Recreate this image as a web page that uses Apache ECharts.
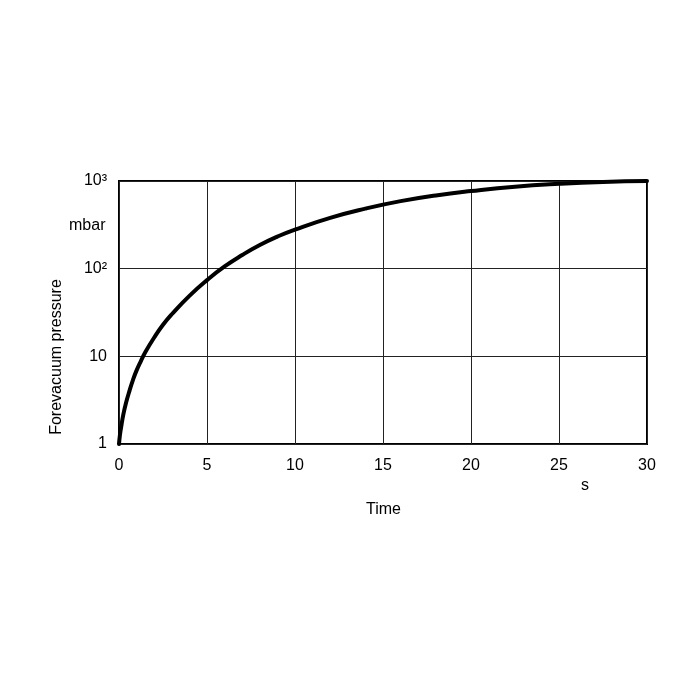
<!DOCTYPE html>
<html>
<head>
<meta charset="utf-8">
<script src="https://cdn.jsdelivr.net/npm/echarts@6/dist/echarts.min.js"></script>
<style>
html,body{margin:0;padding:0;background:#fff;}
#chart{width:700px;height:700px;}
</style>
</head>
<body>
<div id="chart"></div>
<script>
// Data
var timeValues = [0, 0.05, 0.12, 0.25, 0.4, 0.6, 0.8, 1, 1.25, 1.5, 2, 2.5, 3, 4, 5, 6, 7, 8, 9, 10, 12, 14, 16, 18, 20, 22.5, 25, 27.5, 30];
var pressureValues = [1, 1.25, 1.55, 2.19, 2.95, 4.07, 5.43, 6.92, 8.9, 11.2, 16.4, 22.9, 30.2, 49, 74, 106, 143, 186, 232, 279, 380, 484, 589, 684, 767, 861, 929, 977, 1000];
var xTicks = [0, 5, 10, 15, 20, 25, 30];
var yTickLabels = {1: '1', 10: '10', 100: '10²', 1000: '10³'};

var seriesData = timeValues.map(function (t, i) { return [t, pressureValues[i]]; });

var chart = echarts.init(document.getElementById('chart'), null, {renderer: 'canvas'});
var font = '"Liberation Sans", Arial, Helvetica, sans-serif';
chart.setOption({
  backgroundColor: '#fff',
  animation: false,
  grid: {left: 119, right: 53, top: 181, bottom: 256, containLabel: false,
         show: true, borderColor: '#000', borderWidth: 2, backgroundColor: 'transparent'},
  xAxis: {
    type: 'value', min: 0, max: 30, interval: 5,
    axisLine: {show: false},
    axisTick: {show: false},
    axisLabel: {color: '#000', fontFamily: font, fontSize: 16, margin: 14,
      formatter: function (v) { return xTicks.indexOf(v) >= 0 ? String(v) : ''; }},
    splitLine: {show: true, lineStyle: {color: '#222', width: 1}}
  },
  yAxis: {
    type: 'log', logBase: 10, min: 1, max: 1000,
    axisLine: {show: false},
    axisTick: {show: false},
    axisLabel: {color: '#000', fontFamily: font, fontSize: 16, margin: 12,
      formatter: function (v) { return yTickLabels[Math.round(v)] || ''; }},
    splitLine: {show: true, lineStyle: {color: '#222', width: 1}}
  },
  graphic: [
    {type: 'text', left: 69, top: 218, style: {text: 'mbar', fill: '#000', font: '16px ' + font}},
    {type: 'text', left: 581, top: 478, style: {text: 's', fill: '#000', font: '16px ' + font}},
    {type: 'text', left: 366, top: 502, style: {text: 'Time', fill: '#000', font: '16px ' + font}},
    {type: 'text', x: 57, y: 357, rotation: Math.PI / 2,
     style: {text: 'Forevacuum pressure', fill: '#000', font: '16px ' + font, textAlign: 'center', textVerticalAlign: 'middle'}}
  ],
  series: [{
    type: 'line', data: seriesData, smooth: 0.5, showSymbol: false,
    lineStyle: {color: '#000', width: 4, cap: 'round', join: 'round'}, clip: false
  }]
});
</script>
</body>
</html>
